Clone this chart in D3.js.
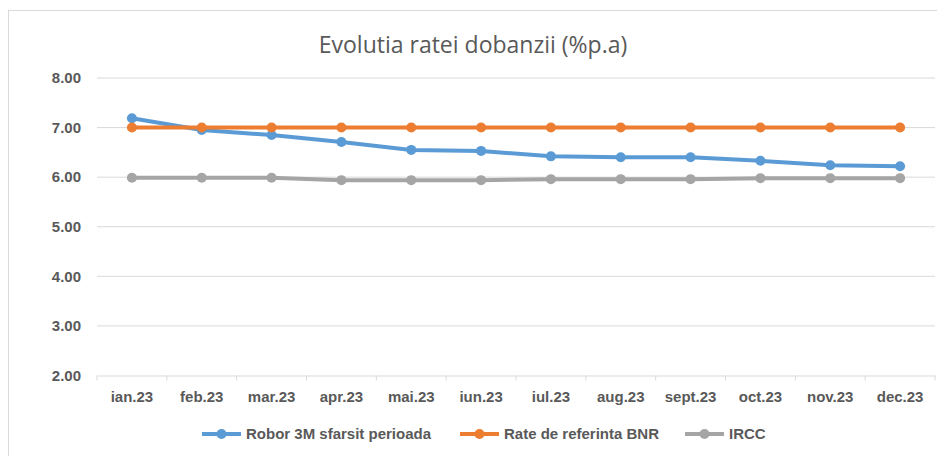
<!DOCTYPE html>
<html>
<head>
<meta charset="utf-8">
<script src="https://cdn.jsdelivr.net/npm/d3@7"></script>
<style>
  body { margin: 0; background: #fff; }
  svg { display: block; }
</style>
</head>
<body>
<svg id="chart"></svg>
<script>
const months = ["ian.23", "feb.23", "mar.23", "apr.23", "mai.23", "iun.23",
                "iul.23", "aug.23", "sept.23", "oct.23", "nov.23", "dec.23"];
const robor = [7.19, 6.95, 6.85, 6.71, 6.55, 6.53, 6.42, 6.40, 6.40, 6.33, 6.24, 6.22];
const bnr = [7.00, 7.00, 7.00, 7.00, 7.00, 7.00, 7.00, 7.00, 7.00, 7.00, 7.00, 7.00];
const ircc = [5.99, 5.99, 5.99, 5.94, 5.94, 5.94, 5.96, 5.96, 5.96, 5.98, 5.98, 5.98];
const yTicks = [2, 3, 4, 5, 6, 7, 8];

const series = [
    { name: "Robor 3M sfarsit perioada", values: robor, color: "#5B9BD5" },
    { name: "Rate de referinta BNR", values: bnr, color: "#ED7D31" },
    { name: "IRCC", values: ircc, color: "#A5A5A5" }
];

const width = 937, height = 456;
const plot = { left: 97, right: 935, top: 78, bottom: 375.5 };
const font = "'Liberation Sans', Arial, sans-serif";
const labelColor = "#595959";

const svg = d3.select("#chart")
    .attr("width", width)
    .attr("height", height);

// chart frame (only left and top edges are visible in the crop)
svg.append("rect")
    .attr("x", 8.5).attr("y", 10.5)
    .attr("width", 960).attr("height", 480)
    .attr("fill", "#fff")
    .attr("stroke", "#d9d9d9");

svg.append("text")
    .attr("x", 473).attr("y", 53)
    .attr("text-anchor", "middle")
    .attr("font-family", "'Open Sans', sans-serif")
    .attr("font-size", "23px")
    .attr("fill", labelColor)
    .text("Evolutia ratei dobanzii (%p.a)");

const x = d3.scaleBand()
    .domain(months)
    .range([plot.left, plot.right]);

const y = d3.scaleLinear()
    .domain([2, 8])
    .range([plot.bottom, plot.top]);

// gridlines
svg.append("g")
    .selectAll("line")
    .data(yTicks.filter(d => d > 2))
    .join("line")
    .attr("x1", plot.left).attr("x2", plot.right)
    .attr("y1", d => y(d)).attr("y2", d => y(d))
    .attr("stroke", "#d9d9d9")
    .attr("stroke-width", 1);

// y axis labels
const yAxis = svg.append("g")
    .attr("transform", `translate(${plot.left}, 0)`)
    .call(d3.axisLeft(y).tickValues(yTicks).tickFormat(d3.format(".2f")).tickSize(0).tickPadding(16));
yAxis.select(".domain").remove();
yAxis.selectAll("text")
    .attr("font-family", font)
    .attr("font-size", "15px")
    .attr("font-weight", "bold")
    .attr("fill", labelColor);

// x axis
const xAxis = svg.append("g")
    .attr("transform", `translate(0, ${plot.bottom})`)
    .call(d3.axisBottom(x).tickSize(0).tickPadding(16));
xAxis.select(".domain")
    .attr("stroke", "#d9d9d9");
xAxis.selectAll("text")
    .attr("font-family", font)
    .attr("font-size", "15px")
    .attr("font-weight", "bold")
    .attr("fill", labelColor);

// category separators on the x axis
const bounds = months.map(m => x(m)).concat([plot.right]);
svg.append("g")
    .selectAll("line")
    .data(bounds)
    .join("line")
    .attr("x1", d => d).attr("x2", d => d)
    .attr("y1", plot.bottom).attr("y2", plot.bottom + 5)
    .attr("stroke", "#d9d9d9");

const line = d3.line()
    .x((d, i) => x(months[i]) + x.bandwidth() / 2)
    .y(d => y(d));

const lines = svg.append("g");
series.forEach(s => {
    lines.append("path")
        .datum(s.values)
        .attr("d", line)
        .attr("fill", "none")
        .attr("stroke", s.color)
        .attr("stroke-width", 4)
        .attr("stroke-linejoin", "round");
    lines.append("g")
        .selectAll("circle")
        .data(s.values)
        .join("circle")
        .attr("cx", (d, i) => x(months[i]) + x.bandwidth() / 2)
        .attr("cy", d => y(d))
        .attr("r", 5)
        .attr("fill", s.color);
});

// legend
const legendX = [202, 460, 685];
const legend = svg.append("g")
    .selectAll("g")
    .data(series)
    .join("g")
    .attr("transform", (d, i) => `translate(${legendX[i]}, 434)`);
legend.append("line")
    .attr("x1", 0).attr("x2", 39)
    .attr("stroke", d => d.color)
    .attr("stroke-width", 4);
legend.append("circle")
    .attr("cx", 19.5).attr("r", 5)
    .attr("fill", d => d.color);
legend.append("text")
    .attr("x", 44).attr("y", 5)
    .attr("font-family", font)
    .attr("font-size", "15px")
    .attr("font-weight", "bold")
    .attr("fill", labelColor)
    .text(d => d.name);
</script>
</body>
</html>
